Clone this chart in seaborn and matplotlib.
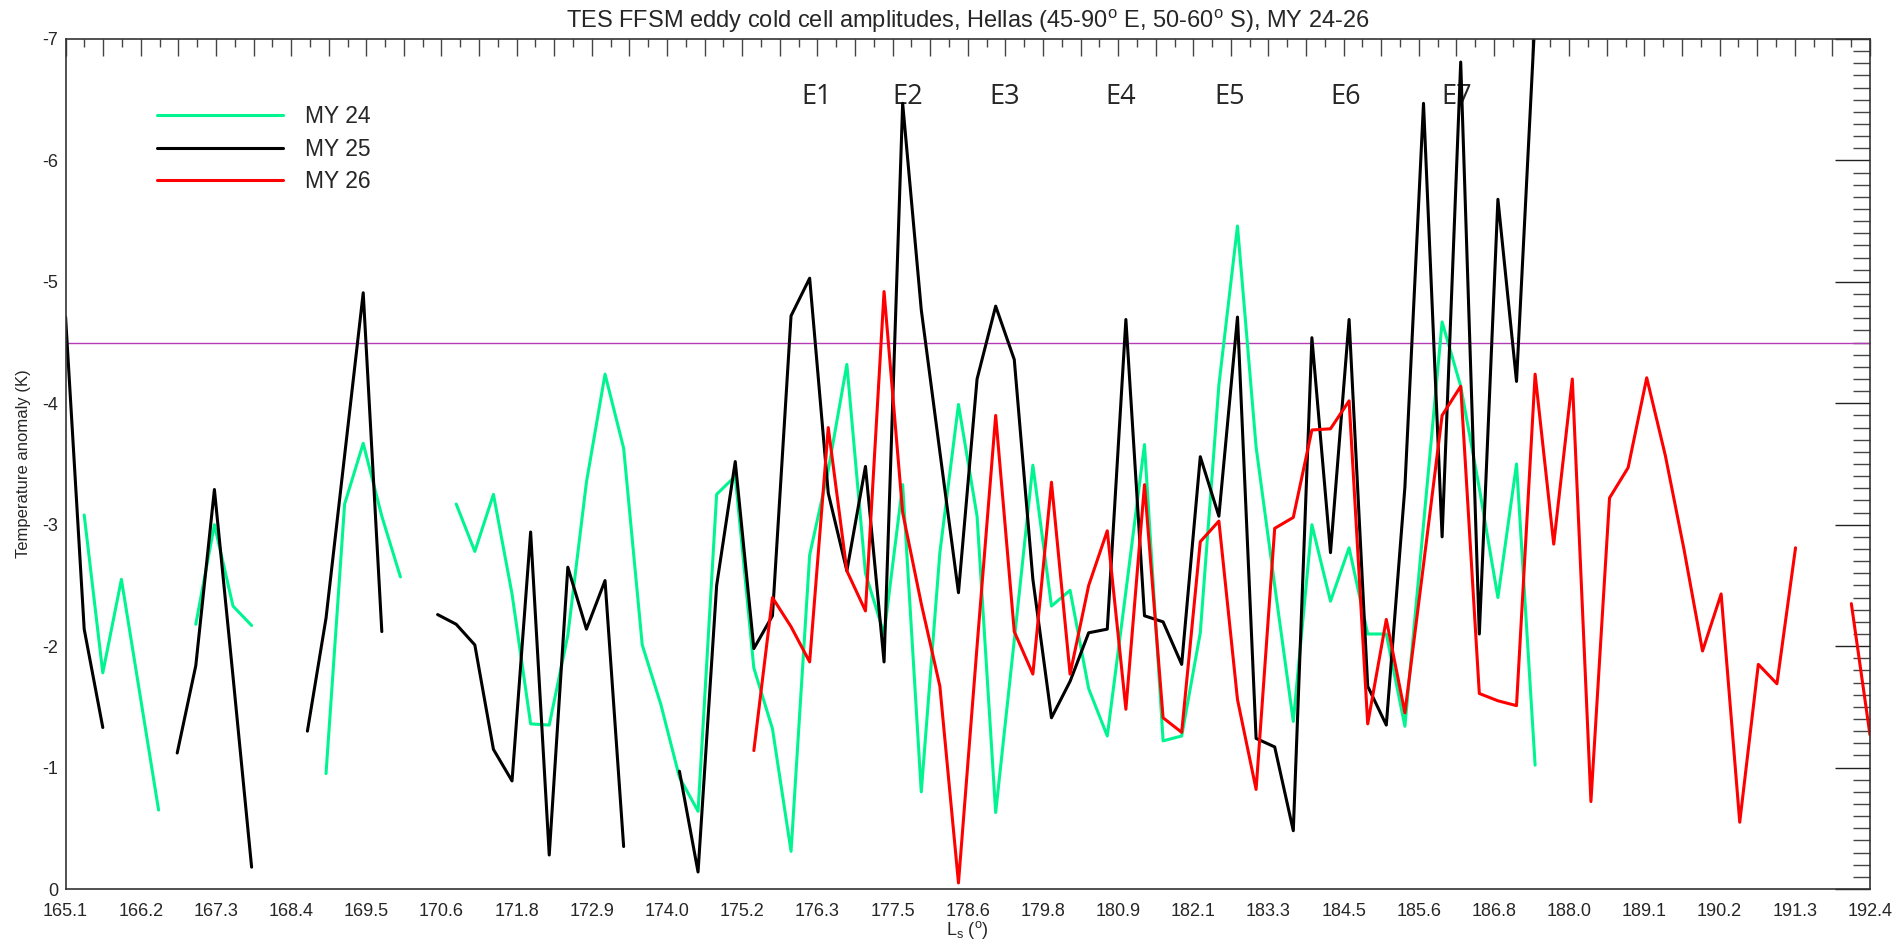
import numpy as np
import pandas as pd
import matplotlib
matplotlib.use("Agg")
import matplotlib.pyplot as plt
import seaborn as sns
from matplotlib.lines import Line2D
from matplotlib.ticker import FixedLocator, MultipleLocator

nan = np.nan

# x axis labels (Ls, degrees), one every 4 samples roughly
ls_labels = ["165.1", "166.2", "167.3", "168.4", "169.5", "170.6", "171.8", "172.9",
             "174.0", "175.2", "176.3", "177.5", "178.6", "179.8", "180.9", "182.1",
             "183.3", "184.5", "185.6", "186.8", "188.0", "189.1", "190.2", "191.3", "192.4"]

# eddy cold cell amplitudes (K), one value per sample, nan = no data
my24 = [nan, -3.08, -1.78, -2.55, -1.60, -0.65, nan, -2.18, -3.00, -2.33,
        -2.17, nan, nan, nan, -0.95, -3.17, -3.67, -3.07, -2.57, nan,
        nan, -3.17, -2.78, -3.25, -2.43, -1.36, -1.35, -2.09, -3.35, -4.24,
        -3.63, -2.01, -1.52, -0.92, -0.64, -3.25, -3.40, -1.82, -1.32, -0.31,
        -2.75, -3.45, -4.32, -2.60, -2.10, -3.33, -0.80, -2.77, -3.99, -3.07,
        -0.63, -2.05, -3.49, -2.33, -2.46, -1.65, -1.26, -2.45, -3.66, -1.22,
        -1.26, -2.11, -4.15, -5.46, -3.64, -2.50, -1.38, -3.00, -2.37, -2.81,
        -2.10, -2.10, -1.34, -3.00, -4.67, -4.14, -3.30, -2.40, -3.50, -1.02,
        nan, nan, nan, nan, nan, nan, nan, nan, nan, nan,
        nan, nan, nan, nan, nan, nan, nan, nan]

my25 = [-4.71, -2.14, -1.33, nan, nan, nan, -1.12, -1.84, -3.29, -1.75,
        -0.18, nan, nan, -1.30, -2.23, -3.57, -4.91, -2.12, nan, nan,
        -2.26, -2.18, -2.01, -1.15, -0.89, -2.94, -0.28, -2.65, -2.14, -2.54,
        -0.35, nan, nan, -0.97, -0.14, -2.50, -3.52, -1.98, -2.25, -4.72,
        -5.03, -3.26, -2.62, -3.48, -1.87, -6.47, -4.77, -3.60, -2.44, -4.20,
        -4.80, -4.36, -2.55, -1.41, -1.71, -2.11, -2.14, -4.69, -2.25, -2.20,
        -1.85, -3.56, -3.07, -4.71, -1.24, -1.17, -0.48, -4.54, -2.77, -4.69,
        -1.67, -1.35, -3.31, -6.47, -2.90, -6.81, -2.10, -5.68, -4.18, -7.20,
        nan, nan, nan, nan, nan, nan, nan, nan, nan, nan,
        nan, nan, nan, nan, nan, nan, nan, nan]

my26 = [nan, nan, nan, nan, nan, nan, nan, nan, nan, nan,
        nan, nan, nan, nan, nan, nan, nan, nan, nan, nan,
        nan, nan, nan, nan, nan, nan, nan, nan, nan, nan,
        nan, nan, nan, nan, nan, nan, nan, -1.14, -2.40, -2.16,
        -1.87, -3.80, -2.62, -2.29, -4.92, -3.10, -2.35, -1.67, -0.05, -2.00,
        -3.90, -2.12, -1.77, -3.35, -1.77, -2.50, -2.95, -1.48, -3.33, -1.41,
        -1.29, -2.86, -3.03, -1.56, -0.82, -2.97, -3.06, -3.78, -3.79, -4.02,
        -1.36, -2.22, -1.45, -2.67, -3.90, -4.14, -1.61, -1.55, -1.51, -4.24,
        -2.84, -4.20, -0.72, -3.22, -3.47, -4.21, -3.57, -2.80, -1.96, -2.43,
        -0.55, -1.85, -1.69, -2.81, nan, nan, -2.35, -1.27]

events = ["E1", "E2", "E3", "E4", "E5", "E6", "E7"]
event_x = [40.4, 45.3, 50.5, 56.7, 62.6, 68.8, 74.8]
threshold = -4.5

series = {"MY 24": my24, "MY 25": my25, "MY 26": my26}
colors = {"MY 24": "#00f591", "MY 25": "black", "MY 26": "red"}

# long-form table, broken into continuous segments so gaps stay gaps
frames = []
for name, vals in series.items():
    s = pd.Series(vals, dtype=float)
    seg = s.isna().cumsum()
    part = pd.DataFrame({"sample": np.arange(len(s)), "temp": s, "year": name,
                         "seg": name + "_" + seg.astype(str)})
    frames.append(part.dropna())
df = pd.concat(frames, ignore_index=True)

sns.set_style("white")
plt.rcParams["font.family"] = ["Liberation Sans", "DejaVu Sans"]
plt.rcParams["mathtext.fontset"] = "custom"
plt.rcParams["mathtext.rm"] = "Liberation Sans"
plt.rcParams["mathtext.it"] = "Liberation Sans:italic"

fig = plt.figure(figsize=(18.99, 9.44), dpi=100)
ax = fig.add_axes([0.03454, 0.05826, 0.95016, 0.90044])

ax.axhline(threshold, color="#b43cb4", lw=1.0, zorder=1)

for i, ev in enumerate(events):
    ax.text(event_x[i], -6.52, ev, ha="center", va="center", fontsize=19.5,
            family=["Open Sans", "DejaVu Sans"], zorder=1)

sns.lineplot(data=df, x="sample", y="temp", hue="year", units="seg", estimator=None,
             palette=colors, linewidth=2.2, legend=False, ax=ax, zorder=2)

n = len(my24) - 1
ax.set_xlim(0, n)
ax.set_ylim(0, -7)

major = [n / 48 * j for j in range(49)]
ax.xaxis.set_major_locator(FixedLocator(major))
ax.set_xticklabels([ls_labels[j // 2] if j % 2 == 0 else "" for j in range(49)])
ax.xaxis.set_minor_locator(FixedLocator([n / 96 * j for j in range(97)]))

ax.set_yticks(list(range(0, -8, -1)))
ax.set_yticklabels([str(v) for v in range(0, -8, -1)])
ax.yaxis.set_minor_locator(MultipleLocator(0.1))

ax.tick_params(axis="x", which="major", direction="in", length=12, width=1,
               color="#444444", top=True, labelsize=13, pad=10)
ax.tick_params(axis="x", which="minor", direction="in", length=6, width=1,
               color="#444444", top=True)
ax.tick_params(axis="y", which="major", direction="in", length=25, width=1,
               color="#222222", right=True, labelsize=13, pad=5.5)
ax.tick_params(axis="y", which="minor", direction="in", length=12.5, width=1,
               color="#444444", right=True)
for sp in ax.spines.values():
    sp.set_color("#333333")
    sp.set_linewidth(1.2)

ax.set_title(r"TES FFSM eddy cold cell amplitudes, Hellas (45-90$^{\rm o}$ E, 50-60$^{\rm o}$ S), MY 24-26",
             fontsize=17, pad=8)
ax.set_xlabel(r"L$_{\rm s}$ ($^{\rm o}$)", fontsize=13)
ax.xaxis.set_label_coords(0.5, -0.0355)
ax.set_ylabel("Temperature anomaly (K)", fontsize=12)
ax.yaxis.set_label_coords(-0.0189, 0.5)

handles = [Line2D([], [], color=colors[k], lw=2.2) for k in series]
ax.legend(handles, list(series), loc="upper left", bbox_to_anchor=(0.0507, 0.9219),
          frameon=False, fontsize=16.5, handlelength=5.5, handletextpad=0.94,
          labelspacing=0.405, borderpad=0, borderaxespad=0)

fig.savefig("out.png", dpi=100)
